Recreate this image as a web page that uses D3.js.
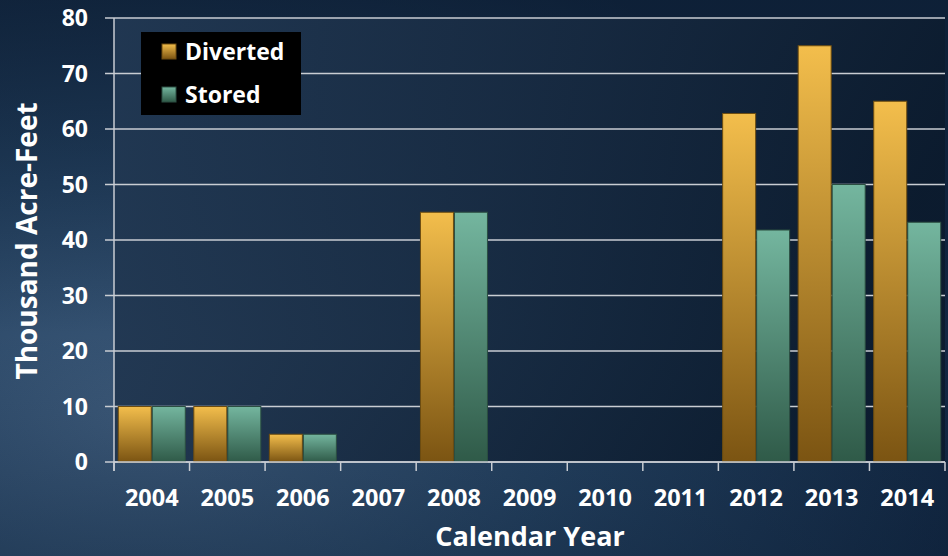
<!DOCTYPE html>
<html><head><meta charset="utf-8">
<script src="https://cdn.jsdelivr.net/npm/d3@7"></script>
<style>html,body{margin:0;padding:0;background:#1a2d45;}svg{display:block;}</style>
</head><body>
<script>
const years = ["2004","2005","2006","2007","2008","2009","2010","2011","2012","2013","2014"];
const diverted = [10,10,5,0,45,0,0,0,62.8,75,65];
const stored = [10,10,5,0,45,0,0,0,41.8,50,43.2];
const yTicks = [0,10,20,30,40,50,60,70,80];
const seriesNames = ["Diverted","Stored"];

const W=948,H=556;
const m={l:114,r:3,t:18,b:94};
const svg=d3.select("body").append("svg").attr("width",W).attr("height",H);
const defs=svg.append("defs");

const bg=defs.append("radialGradient").attr("id","bg").attr("cx","0.15").attr("cy","0.75").attr("r","0.9");
bg.append("stop").attr("offset","0").attr("stop-color","#3d5a7a");
bg.append("stop").attr("offset","0.5").attr("stop-color","#23405f");
bg.append("stop").attr("offset","1").attr("stop-color","#102540");
const bg2=defs.append("linearGradient").attr("id","bg2").attr("x1",0).attr("y1",0).attr("x2",0).attr("y2",1);
bg2.append("stop").attr("offset","0").attr("stop-color","#0c1c30").attr("stop-opacity",0.55);
bg2.append("stop").attr("offset","0.6").attr("stop-color","#0c1c30").attr("stop-opacity",0.0);
bg2.append("stop").attr("offset","1").attr("stop-color","#0c1c30").attr("stop-opacity",0.25);
const pa=defs.append("linearGradient").attr("id","pa").attr("x1",0).attr("y1",0).attr("x2",1).attr("y2",0.3);
pa.append("stop").attr("offset","0").attr("stop-color","#233a55");
pa.append("stop").attr("offset","0.5").attr("stop-color","#182b42");
pa.append("stop").attr("offset","1").attr("stop-color","#0b1a2c");

function barGrad(id,top,bot){
  const g=defs.append("linearGradient").attr("id",id).attr("x1",0).attr("y1",0).attr("x2",0).attr("y2",1);
  g.append("stop").attr("offset","0").attr("stop-color",top);
  g.append("stop").attr("offset","1").attr("stop-color",bot);
}
barGrad("g0","#f3be4c","#7b5412");
barGrad("g1","#74b69f","#2f5a48");
const fills=["url(#g0)","url(#g1)"];
const strokes=["#6e4d10","#2c4f42"];

svg.append("rect").attr("width",W).attr("height",H).attr("fill","url(#bg)");
svg.append("rect").attr("width",W).attr("height",H).attr("fill","url(#bg2)");

const x=d3.scaleBand().domain(years).range([m.l,W-m.r]).paddingInner(0.1).paddingOuter(0.05);
const xb=d3.scaleBand().domain(years).range([m.l,W-m.r]);
const y=d3.scaleLinear().domain([0,80]).range([H-m.b,m.t]);
const xs=d3.scaleBand().domain(seriesNames).range([0,x.bandwidth()]);

svg.append("rect").attr("x",m.l).attr("y",m.t).attr("width",W-m.r-m.l).attr("height",H-m.b-m.t).attr("fill","url(#pa)").attr("opacity",0.85);

// grid
svg.append("g").selectAll("line").data(yTicks).join("line")
 .attr("x1",m.l-9).attr("x2",W-m.r).attr("y1",d=>y(d)).attr("y2",d=>y(d))
 .attr("stroke","#c9cdd3").attr("stroke-width",1.5);

// bars
const data=years.map((yr,i)=>({yr,vals:[diverted[i],stored[i]]}));
const grp=svg.append("g").selectAll("g").data(data).join("g").attr("transform",d=>`translate(${x(d.yr)},0)`);
grp.selectAll("rect").data(d=>d.vals.map((v,j)=>({v,j}))).join("rect")
 .filter(d=>d.v>0)
 .attr("x",d=>xs(seriesNames[d.j])+0.5).attr("width",xs.bandwidth()-1)
 .attr("y",d=>y(d.v)).attr("height",d=>y(0)-y(d.v))
 .attr("fill",d=>fills[d.j]).attr("stroke",d=>strokes[d.j]).attr("stroke-width",1);

// axes lines
svg.append("line").attr("x1",m.l).attr("x2",m.l).attr("y1",m.t).attr("y2",H-m.b+9).attr("stroke","#c9cdd3").attr("stroke-width",1.5);
svg.append("line").attr("x1",m.l).attr("x2",W-m.r).attr("y1",y(0)).attr("y2",y(0)).attr("stroke","#c9cdd3").attr("stroke-width",1.5);
const tickXs=years.map(d=>xb(d)).concat([W-m.r]);
svg.append("g").selectAll("line").data(tickXs).join("line")
 .attr("x1",d=>d).attr("x2",d=>d).attr("y1",y(0)).attr("y2",y(0)+9).attr("stroke","#c9cdd3").attr("stroke-width",1.5);

const font="'Open Sans', sans-serif";
svg.append("g").selectAll("text").data(yTicks).join("text")
 .attr("x",m.l-26).attr("y",d=>y(d)).attr("dy","0.36em").attr("text-anchor","end")
 .attr("fill","#fff").attr("font-family",font).attr("font-weight",700).attr("font-size",23).text(d=>d);
svg.append("g").selectAll("text").data(years).join("text")
 .attr("x",d=>xb(d)+xb.bandwidth()/2).attr("y",y(0)+36).attr("dy","0.36em").attr("text-anchor","middle")
 .attr("fill","#fff").attr("font-family",font).attr("font-weight",700).attr("font-size",23.5).text(d=>d);

svg.append("text").attr("x",530).attr("y",536).attr("dy","0.36em").attr("text-anchor","middle")
 .attr("fill","#fff").attr("font-family",font).attr("font-weight",700).attr("font-size",27).text("Calendar Year");
svg.append("text").attr("transform",`translate(27,${(m.t+H-m.b)/2+1}) rotate(-90)`).attr("dy","0.36em").attr("text-anchor","middle")
 .attr("fill","#fff").attr("font-family",font).attr("font-weight",700).attr("font-size",28).text("Thousand Acre-Feet");

// legend
const lg=svg.append("g").attr("transform","translate(141,32)");
lg.append("rect").attr("width",160).attr("height",83).attr("fill","#000");
seriesNames.forEach((s,i)=>{
  lg.append("rect").attr("x",21).attr("y",12+i*43).attr("width",14).attr("height",15).attr("fill",fills[i]).attr("stroke",strokes[i]);
  lg.append("text").attr("x",44).attr("y",20+i*43).attr("dy","0.36em").attr("fill","#fff")
   .attr("font-family",font).attr("font-weight",700).attr("font-size",23).text(s);
});
</script>
</body></html>
